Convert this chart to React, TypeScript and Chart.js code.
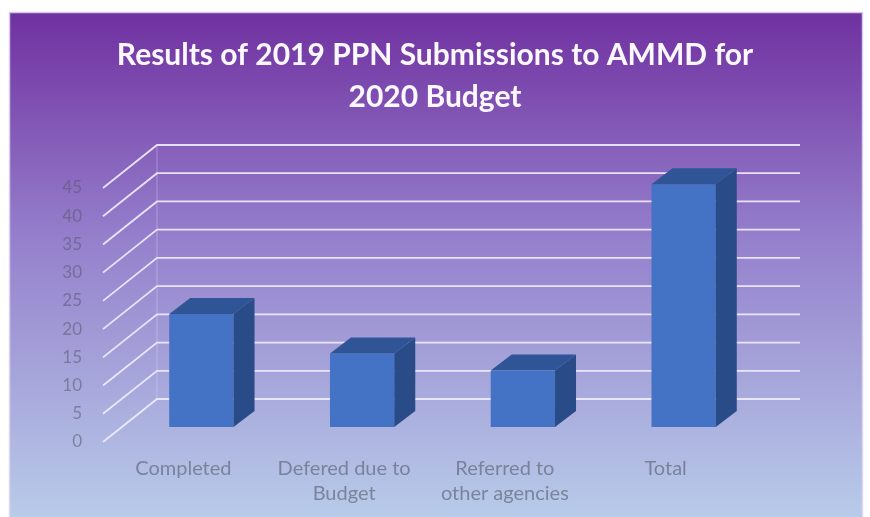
import React, { useEffect, useRef } from 'react';
import { Chart, registerables } from 'chart.js';

Chart.register(...registerables);

const titleLines = ['Results of 2019 PPN Submissions to AMMD for', '2020 Budget'];
const categories: (string | string[])[] = [
  'Completed',
  ['Defered due to', 'Budget'],
  ['Referred to', 'other agencies'],
  'Total',
];
const values = [20, 13, 10, 43];
const yMin = 0;
const yMax = 45;
const yStep = 5;

// 3D geometry (pixels)
const FRONT = { dx: -18, dy: 15 };
const BACK = { dx: 36, dy: -28 };
const BAR_DEPTH = { dx: 21, dy: -16 };

const FONT = 'Lato, "Open Sans", sans-serif';

const backgroundPlugin = {
  id: 'bgPanel',
  beforeDraw(chart: any) {
    const { ctx, width, height } = chart;
    ctx.save();
    ctx.fillStyle = '#ffffff';
    ctx.fillRect(0, 0, width, height);
    const x0 = 9, y0 = 12, x1 = 863, y1 = height;
    const g = ctx.createLinearGradient(0, y0, 0, y1);
    g.addColorStop(0, '#7030a0');
    g.addColorStop(0.45, '#9580cc');
    g.addColorStop(1, '#b8cbe9');
    ctx.fillStyle = g;
    ctx.fillRect(x0, y0, x1 - x0, y1 - y0);
    ctx.strokeStyle = 'rgba(225,215,245,0.9)';
    ctx.lineWidth = 1.5;
    ctx.strokeRect(x0 + 0.5, y0 + 0.5, x1 - x0 - 1, y1 - y0 + 5);
    ctx.restore();
  },
};

const gridPlugin = {
  id: 'grid3d',
  beforeDatasetsDraw(chart: any) {
    const { ctx, chartArea } = chart;
    const y = chart.scales.y;
    const { left, right } = chartArea;
    ctx.save();
    ctx.strokeStyle = 'rgba(240,235,255,0.92)';
    ctx.lineWidth = 1.8;
    y.ticks.forEach((t: any) => {
      const py = y.getPixelForValue(t.value);
      ctx.beginPath();
      ctx.moveTo(left + FRONT.dx, py + FRONT.dy);
      ctx.lineTo(left + BACK.dx, py + BACK.dy);
      ctx.lineTo(right + BACK.dx, py + BACK.dy);
      ctx.stroke();
    });
    ctx.strokeStyle = 'rgba(238,232,255,0.35)';
    ctx.lineWidth = 1;
    ctx.beginPath();
    ctx.moveTo(left + BACK.dx, y.getPixelForValue(yMax) + BACK.dy);
    ctx.lineTo(left + BACK.dx, y.getPixelForValue(yMin) + BACK.dy);
    ctx.stroke();
    ctx.restore();
  },
};

const bar3dPlugin = {
  id: 'bar3d',
  afterDatasetsDraw(chart: any) {
    const { ctx } = chart;
    const meta = chart.getDatasetMeta(0);
    ctx.save();
    meta.data.forEach((bar: any) => {
      const { x, y, base, width } = bar.getProps(['x', 'y', 'base', 'width'], true);
      const l = x - width / 2;
      const r = x + width / 2;
      const { dx, dy } = BAR_DEPTH;
      ctx.fillStyle = '#2f5597';
      ctx.beginPath();
      ctx.moveTo(l, y);
      ctx.lineTo(r, y);
      ctx.lineTo(r + dx, y + dy);
      ctx.lineTo(l + dx, y + dy);
      ctx.closePath();
      ctx.fill();
      ctx.fillStyle = '#294c88';
      ctx.beginPath();
      ctx.moveTo(r, y);
      ctx.lineTo(r + dx, y + dy);
      ctx.lineTo(r + dx, base + dy);
      ctx.lineTo(r, base);
      ctx.closePath();
      ctx.fill();
    });
    ctx.restore();
  },
};

export default function App() {
  const ref = useRef<HTMLCanvasElement | null>(null);

  useEffect(() => {
    if (!ref.current) return;
    const chart = new Chart(ref.current, {
      type: 'bar',
      data: {
        labels: categories as any,
        datasets: [
          {
            data: values,
            backgroundColor: '#4472c4',
            borderWidth: 0,
            categoryPercentage: 1,
            barPercentage: 0.4,
          },
        ],
      },
      options: {
        animation: false,
        responsive: false,
        maintainAspectRatio: false,
        layout: { padding: 0 },
        plugins: {
          legend: { display: false },
          tooltip: { enabled: false },
          title: {
            display: true,
            text: titleLines,
            color: '#fbf8ff',
            font: { family: FONT, size: 30, weight: 'bold', lineHeight: 1.4 },
            padding: { top: 34, bottom: 55 },
          },
        },
        scales: {
          x: {
            grid: { display: false },
            border: { display: false },
            ticks: {
              color: 'rgba(85,88,105,0.6)',
              font: { family: FONT, size: 20, lineHeight: 1.25 },
              padding: 21,
              labelOffset: -18,
              maxRotation: 0,
              autoSkip: false,
            },
            afterFit: (s: any) => {
              s.height = 90;
            },
          },
          y: {
            min: yMin,
            max: yMax,
            grid: { display: false },
            border: { display: false },
            ticks: {
              stepSize: yStep,
              color: 'rgba(85,88,105,0.55)',
              font: { family: FONT, size: 17 },
              padding: 31,
              labelOffset: 15,
            },
            afterFit: (s: any) => {
              s.width = 121;
            },
          },
          yRight: {
            position: 'right',
            display: true,
            grid: { display: false },
            border: { display: false },
            ticks: { display: false },
            afterFit: (s: any) => {
              s.width = 106;
            },
          },
        },
      },
      plugins: [backgroundPlugin, gridPlugin, bar3dPlugin],
    });
    return () => chart.destroy();
  }, []);

  return (
    <div style={{ position: 'fixed', left: 0, top: 0, width: 870, height: 517 }}>
      <canvas ref={ref} width={870} height={517} style={{ width: 870, height: 517, display: 'block' }} />
    </div>
  );
}
